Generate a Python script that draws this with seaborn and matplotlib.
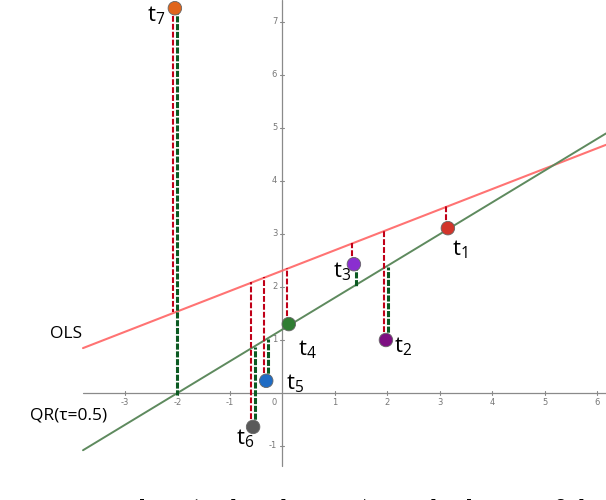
import numpy as np
import pandas as pd
import matplotlib.pyplot as plt
import seaborn as sns

# Dữ liệu điểm
labels = ["t1", "t2", "t3", "t4", "t5", "t6", "t7"]
x_vals = [3.15, 1.97, 1.36, 0.12, -0.31, -0.56, -2.05]
y_vals = [3.11, 1.00, 2.43, 1.30, 0.23, -0.64, 7.26]
point_colors = ["#d2352b", "#7d0f82", "#8a2fd0", "#2f7d32", "#1f6cc4", "#5a5a5a", "#e0651c"]

# Hệ số hồi quy (chặn, dốc)
ols_coef = (2.31, 0.385)
qr_coef = (1.20, 0.60)

x_ticks = [-3, -2, -1, 1, 2, 3, 4, 5, 6]
y_ticks = [-1, 1, 2, 3, 4, 5, 6, 7]

# vị trí nhãn t_i (pixel so với điểm)
label_offsets = [(4, -27), (8, -12), (-21, -13), (9, -31), (20, -9), (-17, -17), (-28, -13)]

df = pd.DataFrame({"x": x_vals, "y": y_vals, "label": labels})

sns.set_theme(style="white")
plt.rcParams["font.family"] = ["Open Sans", "DejaVu Sans"]

fig = plt.figure(figsize=(6.06, 5.0), dpi=100)
ax = fig.add_axes([0, 0, 1, 1])
ax.set_xlim(-5.381, 6.162)
ax.set_ylim(-2.019, 7.415)
ax.axis("off")

# trục toạ độ
axis_col = "#8a8a8a"
ax.plot([-3.8, 6.162], [0, 0], color=axis_col, lw=0.9, zorder=1)
ax.plot([0, 0], [-1.37, 7.415], color=axis_col, lw=0.9, zorder=1)
for xt in x_ticks:
    ax.plot([xt, xt], [-0.03, 0.03], color=axis_col, lw=0.8)
    ax.text(xt, -0.17, str(xt), color="#777777", fontsize=6, ha="center", va="center",
            family="DejaVu Sans")
ax.text(-0.15, -0.17, "0", color="#777777", fontsize=6, ha="center", va="center",
        family="DejaVu Sans")
for yt in y_ticks:
    ax.plot([-0.05, 0.02], [yt, yt], color=axis_col, lw=0.8)
    ax.text(-0.1, yt, str(yt), color="#777777", fontsize=6, ha="right", va="center",
            family="DejaVu Sans")

# đường hồi quy
x_line = np.array([-3.8, 6.162])
sns.lineplot(x=x_line, y=ols_coef[0] + ols_coef[1] * x_line, color="#ff6464", lw=1.5,
             alpha=0.9, ax=ax, zorder=2)
sns.lineplot(x=x_line, y=qr_coef[0] + qr_coef[1] * x_line, color="#5e8a5e", lw=1.4,
             ax=ax, zorder=2)

# phần dư (đường nét đứt)
for xi, yi in zip(x_vals, y_vals):
    y_ols = ols_coef[0] + ols_coef[1] * xi
    y_qr = qr_coef[0] + qr_coef[1] * xi
    ax.plot([xi - 0.035, xi - 0.035], [yi, y_ols], color="#c00018", lw=1.5,
            dashes=(2.8, 1.0), zorder=3)
    if abs(yi - y_qr) > 0.05:
        ax.plot([xi + 0.035, xi + 0.035], [yi, y_qr], color="#0b5a22", lw=2.2,
                dashes=(2.0, 0.55), zorder=3)

sns.scatterplot(data=df, x="x", y="y", hue="label", palette=point_colors, s=95,
                edgecolor="#666666", linewidth=0.6, legend=False, ax=ax, zorder=5)

for (xi, yi, lab, off) in zip(x_vals, y_vals, labels, label_offsets):
    ax.annotate(r"$\mathregular{t_{%s}}$" % lab[1:], (xi, yi), xytext=off,
                textcoords="offset pixels", fontsize=16, ha="left", va="baseline",
                color="black")

fig.text(50 / 606, 1 - 338 / 500, "OLS", fontsize=12.5, color="black")
fig.text(30 / 606, 1 - 420 / 500, "QR(τ=0.5)", fontsize=12.5, color="black")

# chú thích bị cắt ở dưới (giống ảnh gốc)
caption = [("Figure 3:", 3), ("The", 125), ("(red and green)", 190), ("residuals", 380),
           ("of the", 540)]
for txt, px in caption:
    fig.text(px / 606, 1 - 516 / 500, txt, fontsize=16.5, family="DejaVu Serif",
             color="black", va="baseline")

plt.savefig("out.png", dpi=100)
